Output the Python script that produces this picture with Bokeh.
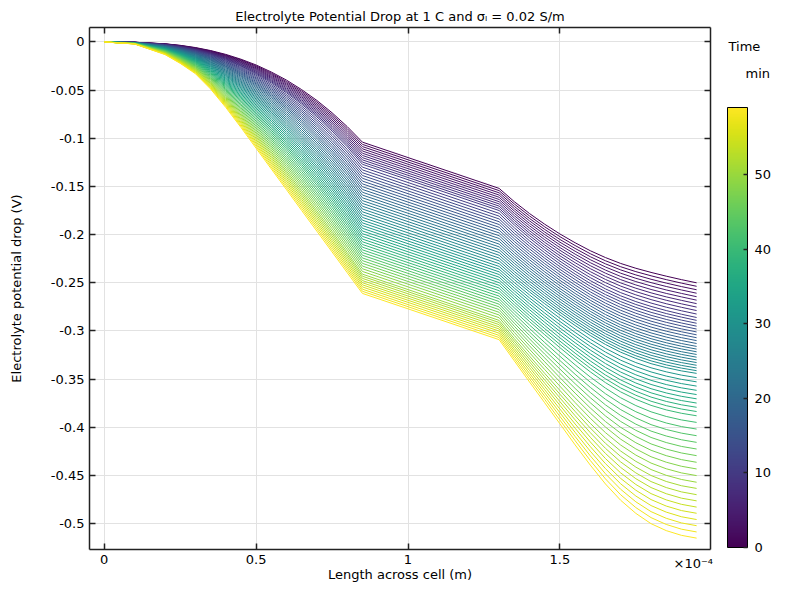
from bokeh.plotting import figure
from bokeh.models import (ColumnDataSource, LinearColorMapper, ColorBar, FixedTicker,
                          LinearAxis, Range1d, CustomJSTickFormatter)
from bokeh.palettes import Viridis256
from bokeh.embed import file_html
from bokeh.resources import INLINE

# ---------------- data ----------------
# positions across the cell, in units of 1e-4 m
x_nodes = [0, 0.1, 0.2, 0.25, 0.3, 0.35, 0.4, 0.45, 0.5, 0.55, 0.6, 0.65, 0.7, 0.75, 0.8, 0.85,
           1.3, 1.35, 1.4, 1.45, 1.5, 1.55, 1.6, 1.65, 1.7, 1.75, 1.8, 1.85, 1.9, 1.95]

time_min = [0, 1, 2, 3, 4, 5, 6, 7, 8, 9, 10, 11, 12, 13, 14, 15, 16, 17, 18, 19,
            20, 21, 22, 23, 24, 25, 26, 27, 28, 29, 30, 31, 32, 33, 34, 35, 36, 37, 38, 39,
            40, 41, 42, 43, 44, 45, 46, 47, 48, 49, 50, 51, 52, 53, 54, 55, 56, 57, 58, 59]

# size of the electrolyte potential drop (mV) at x_nodes, one list per time step
# (the potential itself is negative: it is plotted as -drop)
drop00 = [0, 0.3, 1.9, 3.5, 5.8, 8.9, 12.9, 17.9, 23.9, 31.2, 39.6, 49.5, 60.7, 73.5, 87.9, 104, 152, 165.8, 178.1, 189.2, 199.3, 208.4, 216.7, 223.8, 229.9, 234.9, 239.2, 243.1, 246.7, 250]
drop01 = [0, 0.3, 2.0, 3.7, 6.1, 9.3, 13.5, 18.6, 24.9, 32.3, 41.0, 51.0, 62.4, 75.4, 90.0, 106.3, 154.3, 168.2, 180.6, 191.9, 202.1, 211.3, 219.8, 227.1, 233.3, 238.4, 242.7, 246.7, 250.3, 253.6]
drop02 = [0, 0.3, 2.1, 3.9, 6.4, 9.7, 14.1, 19.4, 25.8, 33.4, 42.3, 52.5, 64.2, 77.3, 92.1, 108.6, 156.6, 170.7, 183.2, 194.6, 205.0, 214.3, 222.9, 230.3, 236.6, 241.8, 246.3, 250.3, 253.9, 257.2]
drop03 = [0, 0.3, 2.2, 4.1, 6.7, 10.2, 14.6, 20.1, 26.8, 34.5, 43.6, 54.0, 65.9, 79.2, 94.2, 110.9, 158.9, 173.1, 185.7, 197.3, 207.8, 217.2, 226.0, 233.6, 240.0, 245.3, 249.8, 253.8, 257.4, 260.8]
drop04 = [0, 0.4, 2.3, 4.3, 6.9, 10.6, 15.2, 20.9, 27.7, 35.7, 44.9, 55.5, 67.6, 81.1, 96.3, 113.2, 161.2, 175.5, 188.3, 199.9, 210.6, 220.2, 229.1, 236.8, 243.4, 248.7, 253.3, 257.4, 261.0, 264.4]
drop05 = [0, 0.4, 2.4, 4.4, 7.2, 11.0, 15.8, 21.6, 28.6, 36.8, 46.2, 57.0, 69.3, 83.0, 98.4, 115.5, 163.5, 177.9, 190.8, 202.6, 213.4, 223.2, 232.2, 240.0, 246.7, 252.2, 256.9, 261.0, 264.6, 268.0]
drop06 = [0, 0.4, 2.6, 4.6, 7.5, 11.4, 16.4, 22.4, 29.6, 37.9, 47.6, 58.5, 71.0, 84.9, 100.5, 117.8, 165.8, 180.3, 193.3, 205.3, 216.2, 226.1, 235.3, 243.3, 250.1, 255.6, 260.4, 264.6, 268.2, 271.6]
drop07 = [0, 0.4, 2.7, 4.8, 7.8, 11.8, 16.9, 23.2, 30.5, 39.1, 48.9, 60.1, 72.7, 86.8, 102.6, 120.1, 168.1, 182.8, 195.9, 208.0, 219.1, 229.1, 238.4, 246.5, 253.4, 259.1, 263.9, 268.1, 271.8, 275.2]
drop08 = [0, 0.4, 2.8, 5.0, 8.1, 12.2, 17.5, 23.9, 31.5, 40.2, 50.2, 61.6, 74.4, 88.7, 104.7, 122.4, 170.4, 185.2, 198.4, 210.7, 221.9, 232.1, 241.5, 249.8, 256.8, 262.5, 267.4, 271.7, 275.4, 278.8]
drop09 = [0, 0.4, 2.9, 5.2, 8.3, 12.6, 18.1, 24.7, 32.4, 41.3, 51.5, 63.1, 76.1, 90.6, 106.8, 124.7, 172.7, 187.6, 201.0, 213.3, 224.7, 235.0, 244.6, 253.0, 260.2, 266.0, 271.0, 275.3, 279.0, 282.4]
drop10 = [0, 0.5, 3.0, 5.4, 8.6, 13.1, 18.7, 25.4, 33.4, 42.5, 52.8, 64.6, 77.8, 92.5, 108.9, 127, 175, 190.0, 203.5, 216.0, 227.5, 238.0, 247.7, 256.3, 263.5, 269.5, 274.5, 278.8, 282.6, 286]
drop11 = [0, 0.5, 3.2, 5.6, 9.0, 13.6, 19.5, 26.5, 34.6, 44.0, 54.6, 66.6, 80.0, 95.0, 111.6, 129.9, 177.9, 192.9, 206.4, 218.8, 230.3, 240.9, 250.7, 259.2, 266.5, 272.5, 277.5, 281.9, 285.6, 289]
drop12 = [0, 0.5, 3.3, 5.9, 9.4, 14.2, 20.2, 27.5, 35.9, 45.5, 56.3, 68.6, 82.2, 97.4, 114.3, 132.8, 180.8, 195.7, 209.2, 221.7, 233.2, 243.7, 253.6, 262.2, 269.5, 275.5, 280.6, 284.9, 288.7, 292]
drop13 = [0, 0.5, 3.5, 6.2, 9.8, 14.8, 21.0, 28.5, 37.2, 47.0, 58.1, 70.6, 84.5, 99.9, 117.0, 135.7, 183.7, 198.6, 212.0, 224.5, 236.0, 246.6, 256.5, 265.1, 272.5, 278.6, 283.7, 288.0, 291.7, 295]
drop14 = [0, 0.6, 3.6, 6.4, 10.1, 15.3, 21.8, 29.5, 38.4, 48.5, 59.9, 72.5, 86.7, 102.3, 119.6, 138.6, 186.6, 201.4, 214.8, 227.3, 238.8, 249.5, 259.4, 268.1, 275.5, 281.6, 286.7, 291.0, 294.7, 298]
drop15 = [0, 0.6, 3.8, 6.7, 10.5, 15.9, 22.6, 30.6, 39.7, 50.0, 61.6, 74.5, 88.9, 104.8, 122.3, 141.5, 189.5, 204.3, 217.7, 230.1, 241.7, 252.3, 262.3, 271.1, 278.5, 284.7, 289.8, 294.1, 297.8, 301]
drop16 = [0, 0.6, 3.9, 6.9, 10.9, 16.5, 23.4, 31.6, 41.0, 51.5, 63.4, 76.5, 91.1, 107.3, 125.0, 144.4, 192.4, 207.1, 220.5, 232.9, 244.5, 255.2, 265.2, 274.0, 281.5, 287.7, 292.8, 297.2, 300.8, 304]
drop17 = [0, 0.6, 4.1, 7.2, 11.3, 17.0, 24.2, 32.6, 42.3, 53.1, 65.1, 78.5, 93.3, 109.7, 127.7, 147.3, 195.3, 210.0, 223.3, 235.8, 247.4, 258.1, 268.1, 277.0, 284.6, 290.7, 295.9, 300.2, 303.8, 307]
drop18 = [0, 0.7, 4.2, 7.5, 11.7, 17.6, 25.0, 33.6, 43.5, 54.6, 66.9, 80.5, 95.6, 112.2, 130.3, 150.2, 198.2, 212.8, 226.1, 238.6, 250.2, 261.0, 271.0, 279.9, 287.6, 293.8, 299.0, 303.3, 306.9, 310]
drop19 = [0, 0.7, 4.4, 7.7, 12.0, 18.2, 25.7, 34.7, 44.8, 56.1, 68.6, 82.5, 97.8, 114.6, 133.0, 153.1, 201.1, 215.7, 229.0, 241.4, 253.0, 263.8, 273.9, 282.9, 290.6, 296.8, 302.0, 306.3, 309.9, 313]
drop20 = [0, 0.7, 4.5, 8.0, 12.4, 18.7, 26.5, 35.7, 46.1, 57.6, 70.4, 84.5, 100.0, 117.1, 135.7, 156, 204, 218.5, 231.8, 244.2, 255.9, 266.7, 276.9, 285.9, 293.6, 299.9, 305.1, 309.4, 313.0, 316]
drop21 = [0, 0.7, 4.7, 8.3, 12.9, 19.4, 27.4, 36.9, 47.5, 59.3, 72.3, 86.7, 102.4, 119.6, 138.4, 158.9, 206.9, 221.3, 234.6, 247.0, 258.6, 269.4, 279.6, 288.7, 296.4, 302.7, 308.0, 312.2, 315.8, 318.8]
drop22 = [0, 0.8, 4.9, 8.6, 13.3, 20.1, 28.4, 38.1, 49.0, 61.0, 74.3, 88.8, 104.8, 122.2, 141.2, 161.8, 209.8, 224.1, 237.3, 249.7, 261.3, 272.2, 282.4, 291.5, 299.3, 305.6, 310.8, 315.1, 318.6, 321.6]
drop23 = [0, 0.8, 5.1, 8.9, 13.8, 20.7, 29.3, 39.3, 50.5, 62.7, 76.2, 91.0, 107.2, 124.8, 143.9, 164.7, 212.7, 227.0, 240.1, 252.4, 264.1, 275.0, 285.2, 294.3, 302.1, 308.5, 313.7, 318.0, 321.5, 324.4]
drop24 = [0, 0.8, 5.3, 9.2, 14.2, 21.4, 30.2, 40.5, 51.9, 64.5, 78.2, 93.2, 109.6, 127.4, 146.7, 167.6, 215.6, 229.8, 242.9, 255.2, 266.8, 277.7, 288.0, 297.1, 305.0, 311.3, 316.6, 320.8, 324.3, 327.2]
drop25 = [0, 0.9, 5.4, 9.5, 14.7, 22.1, 31.1, 41.6, 53.4, 66.2, 80.2, 95.4, 112.0, 130.0, 149.4, 170.5, 218.5, 232.6, 245.7, 257.9, 269.6, 280.5, 290.8, 299.9, 307.8, 314.2, 319.5, 323.7, 327.2, 330.0]
drop26 = [0, 0.9, 5.6, 9.8, 15.1, 22.7, 32.0, 42.8, 54.8, 67.9, 82.1, 97.6, 114.3, 132.5, 152.2, 173.4, 221.4, 235.4, 248.4, 260.7, 272.3, 283.2, 293.6, 302.8, 310.6, 317.1, 322.4, 326.6, 330.0, 332.8]
drop27 = [0, 0.9, 5.8, 10.1, 15.6, 23.4, 33.0, 44.0, 56.3, 69.6, 84.1, 99.7, 116.7, 135.1, 154.9, 176.3, 224.3, 238.3, 251.2, 263.4, 275.1, 286.0, 296.3, 305.6, 313.5, 319.9, 325.2, 329.4, 332.8, 335.6]
drop28 = [0, 0.9, 6.0, 10.4, 16.0, 24.1, 33.9, 45.2, 57.7, 71.3, 86.0, 101.9, 119.1, 137.7, 157.7, 179.2, 227.2, 241.1, 254.0, 266.2, 277.8, 288.8, 299.1, 308.4, 316.3, 322.8, 328.1, 332.3, 335.7, 338.4]
drop29 = [0, 1.0, 6.2, 10.8, 16.5, 24.7, 34.8, 46.4, 59.2, 73.0, 88.0, 104.1, 121.5, 140.3, 160.4, 182.1, 230.1, 243.9, 256.8, 268.9, 280.5, 291.5, 301.9, 311.2, 319.2, 325.7, 331.0, 335.2, 338.5, 341.2]
drop30 = [0, 1.0, 6.4, 11.1, 17.0, 25.4, 35.7, 47.6, 60.7, 74.7, 89.9, 106.3, 123.9, 142.8, 163.2, 185, 233, 246.7, 259.5, 271.7, 283.3, 294.3, 304.7, 314.0, 322.0, 328.5, 333.9, 338.0, 341.4, 344]
drop31 = [0, 1.0, 6.6, 11.4, 17.5, 26.1, 36.8, 48.9, 62.3, 76.6, 92.0, 108.6, 126.4, 145.5, 165.9, 187.8, 235.8, 249.7, 262.6, 274.9, 286.7, 297.9, 308.5, 318.0, 326.1, 332.8, 338.2, 342.4, 345.8, 348.4]
drop32 = [0, 1.1, 6.8, 11.8, 18.0, 26.9, 37.8, 50.3, 63.9, 78.5, 94.1, 110.9, 128.9, 148.1, 168.7, 190.6, 238.6, 252.6, 265.7, 278.1, 290.1, 301.5, 312.2, 321.9, 330.3, 337.0, 342.5, 346.8, 350.2, 352.8]
drop33 = [0, 1.1, 7.0, 12.1, 18.5, 27.6, 38.8, 51.6, 65.5, 80.4, 96.2, 113.2, 131.3, 150.7, 171.4, 193.4, 241.4, 255.5, 268.7, 281.4, 293.5, 305.0, 316.0, 325.9, 334.4, 341.3, 346.9, 351.2, 354.6, 357.2]
drop34 = [0, 1.1, 7.2, 12.5, 19.0, 28.4, 39.9, 52.9, 67.1, 82.2, 98.3, 115.5, 133.8, 153.3, 174.1, 196.2, 244.2, 258.4, 271.8, 284.6, 296.9, 308.6, 319.8, 329.8, 338.5, 345.5, 351.2, 355.6, 359.0, 361.6]
drop35 = [0, 1.2, 7.4, 12.8, 19.5, 29.1, 40.9, 54.2, 68.7, 84.1, 100.5, 117.8, 136.3, 156.0, 176.8, 199.0, 247.0, 261.4, 274.9, 287.8, 300.3, 312.2, 323.5, 333.8, 342.6, 349.7, 355.5, 360.0, 363.4, 366.0]
drop36 = [0, 1.2, 7.6, 13.2, 20.0, 29.9, 41.9, 55.6, 70.3, 86.0, 102.6, 120.1, 138.8, 158.6, 179.6, 201.8, 249.8, 264.3, 277.9, 291.0, 303.7, 315.8, 327.3, 337.8, 346.7, 354.0, 359.9, 364.3, 367.8, 370.4]
drop37 = [0, 1.2, 7.8, 13.5, 20.5, 30.6, 43.0, 56.9, 72.0, 87.8, 104.7, 122.5, 141.3, 161.2, 182.3, 204.6, 252.6, 267.2, 281.0, 294.3, 307.1, 319.4, 331.1, 341.7, 350.8, 358.2, 364.2, 368.7, 372.2, 374.8]
drop38 = [0, 1.3, 8.1, 13.9, 21.0, 31.4, 44.0, 58.2, 73.6, 89.7, 106.8, 124.8, 143.8, 163.8, 185.0, 207.4, 255.4, 270.1, 284.1, 297.5, 310.5, 323.0, 334.9, 345.7, 354.9, 362.5, 368.6, 373.1, 376.6, 379.2]
drop39 = [0, 1.3, 8.3, 14.2, 21.5, 32.1, 45.0, 59.6, 75.2, 91.6, 108.9, 127.1, 146.2, 166.5, 187.8, 210.2, 258.2, 273.0, 287.2, 300.7, 313.9, 326.6, 338.6, 349.6, 359.1, 366.7, 372.9, 377.5, 381.0, 383.6]
drop40 = [0, 1.3, 8.5, 14.6, 22.1, 32.9, 46.1, 60.9, 76.8, 93.5, 111.0, 129.4, 148.7, 169.1, 190.5, 213, 261, 276.0, 290.2, 303.9, 317.3, 330.2, 342.4, 353.6, 363.2, 370.9, 377.2, 381.9, 385.4, 388]
drop41 = [0, 1.4, 8.7, 15.0, 22.6, 33.7, 47.2, 62.4, 78.6, 95.5, 113.3, 131.9, 151.4, 171.8, 193.3, 215.8, 263.8, 279.2, 293.8, 307.9, 321.7, 335.1, 347.8, 359.3, 369.3, 377.4, 383.9, 388.7, 392.3, 394.9]
drop42 = [0, 1.4, 9.0, 15.4, 23.2, 34.6, 48.4, 63.9, 80.4, 97.6, 115.6, 134.4, 154.0, 174.6, 196.1, 218.6, 266.6, 282.3, 297.4, 312.0, 326.2, 340.0, 353.1, 365.1, 375.4, 383.8, 390.5, 395.5, 399.2, 401.8]
drop43 = [0, 1.5, 9.2, 15.8, 23.8, 35.4, 49.5, 65.3, 82.2, 99.7, 117.9, 136.9, 156.7, 177.3, 198.9, 221.4, 269.4, 285.5, 301.0, 316.0, 330.6, 344.9, 358.5, 370.9, 381.6, 390.2, 397.2, 402.2, 406.0, 408.7]
drop44 = [0, 1.5, 9.4, 16.2, 24.4, 36.3, 50.7, 66.8, 84.0, 101.7, 120.2, 139.4, 159.3, 180.1, 201.7, 224.2, 272.2, 288.7, 304.6, 320.0, 335.1, 349.8, 363.8, 376.7, 387.7, 396.7, 403.9, 409.0, 412.9, 415.6]
drop45 = [0, 1.5, 9.7, 16.6, 24.9, 37.1, 51.9, 68.3, 85.8, 103.8, 122.5, 141.9, 161.9, 182.8, 204.5, 227.0, 275.0, 291.9, 308.2, 324.0, 339.5, 354.7, 369.2, 382.4, 393.9, 403.1, 410.5, 415.8, 419.8, 422.5]
drop46 = [0, 1.6, 9.9, 17.0, 25.5, 37.9, 53.0, 69.8, 87.6, 105.9, 124.8, 144.4, 164.6, 185.6, 207.3, 229.8, 277.8, 295.1, 311.8, 328.0, 344.0, 359.6, 374.5, 388.2, 400.0, 409.5, 417.2, 422.6, 426.6, 429.4]
drop47 = [0, 1.6, 10.2, 17.4, 26.1, 38.8, 54.2, 71.3, 89.4, 108.0, 127.1, 146.9, 167.2, 188.3, 210.1, 232.6, 280.6, 298.3, 315.4, 332.0, 348.4, 364.5, 379.9, 394.0, 406.1, 416.0, 423.8, 429.4, 433.5, 436.3]
drop48 = [0, 1.7, 10.4, 17.8, 26.7, 39.6, 55.3, 72.8, 91.2, 110.0, 129.4, 149.3, 169.9, 191.0, 212.9, 235.4, 283.4, 301.5, 319.0, 336.0, 352.8, 369.4, 385.2, 399.7, 412.3, 422.4, 430.5, 436.2, 440.4, 443.2]
drop49 = [0, 1.7, 10.7, 18.2, 27.2, 40.5, 56.5, 74.3, 93.0, 112.1, 131.7, 151.8, 172.5, 193.8, 215.7, 238.2, 286.2, 304.7, 322.5, 340.0, 357.3, 374.3, 390.6, 405.5, 418.4, 428.8, 437.1, 443.0, 447.3, 450.1]
drop50 = [0, 1.7, 10.9, 18.6, 27.8, 41.3, 57.7, 75.8, 94.7, 114.2, 134.0, 154.3, 175.2, 196.5, 218.5, 241, 289, 307.9, 326.1, 344.0, 361.7, 379.2, 395.9, 411.3, 424.6, 435.3, 443.8, 449.8, 454.1, 457]
drop51 = [0, 1.8, 11.1, 19.0, 28.4, 42.2, 58.8, 77.2, 96.5, 116.1, 136.1, 156.6, 177.5, 198.9, 220.8, 243.2, 291.2, 310.4, 329.1, 347.4, 365.6, 383.5, 400.7, 416.6, 430.2, 441.3, 450.0, 456.2, 460.6, 463.4]
drop52 = [0, 1.8, 11.4, 19.4, 28.9, 43.0, 59.9, 78.6, 98.2, 118.1, 138.3, 158.9, 179.9, 201.3, 223.1, 245.4, 293.4, 313.0, 332.1, 350.8, 369.4, 387.9, 405.5, 421.8, 435.9, 447.3, 456.3, 462.5, 467.0, 469.9]
drop53 = [0, 1.9, 11.6, 19.8, 29.5, 43.8, 61.1, 80.1, 99.9, 120.0, 140.4, 161.2, 182.2, 203.7, 225.5, 247.7, 295.7, 315.6, 335.1, 354.2, 373.3, 392.2, 410.3, 427.1, 441.6, 453.3, 462.5, 468.9, 473.5, 476.3]
drop54 = [0, 1.9, 11.9, 20.2, 30.1, 44.7, 62.2, 81.5, 101.6, 122.0, 142.6, 163.5, 184.6, 206.1, 227.8, 249.9, 297.9, 318.2, 338.0, 357.6, 377.1, 396.5, 415.1, 432.4, 447.3, 459.3, 468.8, 475.3, 479.9, 482.8]
drop55 = [0, 1.9, 12.1, 20.6, 30.6, 45.5, 63.3, 83.0, 103.4, 124.0, 144.7, 165.7, 187.0, 208.4, 230.1, 252.1, 300.1, 320.7, 341.0, 361.0, 381.0, 400.9, 420.0, 437.7, 453.0, 465.3, 475.0, 481.7, 486.4, 489.2]
drop56 = [0, 2.0, 12.3, 21.0, 31.2, 46.3, 64.5, 84.4, 105.1, 125.9, 146.9, 168.0, 189.3, 210.8, 232.5, 254.3, 302.3, 323.3, 344.0, 364.3, 384.8, 405.2, 424.8, 442.9, 458.6, 471.3, 481.2, 488.0, 492.8, 495.7]
drop57 = [0, 2.0, 12.6, 21.4, 31.8, 47.1, 65.6, 85.9, 106.8, 127.9, 149.0, 170.3, 191.7, 213.2, 234.8, 256.6, 304.6, 325.9, 346.9, 367.7, 388.6, 409.5, 429.6, 448.2, 464.3, 477.3, 487.5, 494.4, 499.2, 502.1]
drop58 = [0, 2.1, 12.8, 21.8, 32.3, 48.0, 66.7, 87.3, 108.5, 129.9, 151.2, 172.6, 194.0, 215.6, 237.1, 258.8, 306.8, 328.5, 349.9, 371.1, 392.5, 413.8, 434.4, 453.5, 470.0, 483.3, 493.7, 500.8, 505.7, 508.6]
drop59 = [0, 2.1, 13.1, 22.2, 32.9, 48.8, 67.9, 88.7, 110.3, 131.8, 153.3, 174.9, 196.4, 217.9, 239.5, 261, 309, 331.0, 352.9, 374.5, 396.3, 418.2, 439.2, 458.8, 475.7, 489.3, 500.0, 507.2, 512.1, 515]

drop_rows = [drop00, drop01, drop02, drop03, drop04, drop05, drop06, drop07, drop08, drop09,
             drop10, drop11, drop12, drop13, drop14, drop15, drop16, drop17, drop18, drop19,
             drop20, drop21, drop22, drop23, drop24, drop25, drop26, drop27, drop28, drop29,
             drop30, drop31, drop32, drop33, drop34, drop35, drop36, drop37, drop38, drop39,
             drop40, drop41, drop42, drop43, drop44, drop45, drop46, drop47, drop48, drop49,
             drop50, drop51, drop52, drop53, drop54, drop55, drop56, drop57, drop58, drop59]

x_ticks = [0, 0.5, 1, 1.5]
x_tick_labels = ["0", "0.5", "1", "1.5"]
y_ticks = [0, -0.05, -0.1, -0.15, -0.2, -0.25, -0.3, -0.35, -0.4, -0.45, -0.5]
y_tick_labels = ["0", "-0.05", "-0.1", "-0.15", "-0.2", "-0.25", "-0.3", "-0.35", "-0.4", "-0.45", "-0.5"]
cbar_ticks = [0, 10, 20, 30, 40, 50]
time_max = 59

title_text = "Electrolyte Potential Drop at 1 C and \u03c3\u2097 = 0.02 S/m"
x_label = "Length across cell (m)"
y_label = "Electrolyte potential drop (V)"
x_scale_text = "\u00d710\u207b\u2074"
cbar_title = "Time"
cbar_unit = "min"

# ---------------- styling ----------------
FONT = "DejaVu Sans"
FS = "13px"
TXT = "#000000"
AX = "#222222"

p = figure(width=772, height=584, output_backend="svg", toolbar_location=None,
           x_range=Range1d(-0.0484, 1.9957), y_range=Range1d(-0.5268, 0.0150),
           min_border_left=89, min_border_right=62, min_border_top=27, min_border_bottom=35,
           x_axis_label=x_label, y_axis_label=y_label)
p.outline_line_color = None
p.background_fill_color = "white"
p.border_fill_color = "white"

p.title.text = title_text
p.title.align = "center"
p.title.text_font = FONT
p.title.text_font_size = FS
p.title.text_font_style = "normal"
p.title.text_color = TXT
p.title.standoff = 7

mapper = LinearColorMapper(palette=Viridis256, low=0, high=time_max)

xs = [x_nodes for _ in drop_rows]
ys = [[-v / 1000.0 for v in row] for row in drop_rows]
src = ColumnDataSource(dict(xs=xs, ys=ys, t=time_min))
p.multi_line("xs", "ys", source=src, line_width=1,
             line_color={"field": "t", "transform": mapper})

def style_axis(ax):
    ax.axis_line_color = AX
    ax.axis_line_width = 1.5
    ax.major_tick_line_color = AX
    ax.major_tick_line_width = 1.5
    ax.major_tick_in = 6
    ax.major_tick_out = 0
    ax.minor_tick_line_color = None
    ax.major_label_text_font = FONT
    ax.major_label_text_font_size = FS
    ax.major_label_text_color = TXT
    ax.axis_label_text_font = FONT
    ax.axis_label_text_font_size = FS
    ax.axis_label_text_font_style = "normal"
    ax.axis_label_text_color = TXT

xax = p.xaxis[0]
yax = p.yaxis[0]
xax.ticker = FixedTicker(ticks=x_ticks)
yax.ticker = FixedTicker(ticks=y_ticks)
xax.major_label_overrides = dict(zip(x_ticks, x_tick_labels))
yax.major_label_overrides = dict(zip(y_ticks, y_tick_labels))
style_axis(xax)
style_axis(yax)
xax.major_label_standoff = 5
xax.axis_label_standoff = 0
yax.major_label_standoff = 5
yax.axis_label_standoff = 24

blank = CustomJSTickFormatter(code="return ''")
top_ax = LinearAxis(ticker=FixedTicker(ticks=x_ticks), formatter=blank)
right_ax = LinearAxis(ticker=FixedTicker(ticks=y_ticks), formatter=blank)
for ax in (top_ax, right_ax):
    style_axis(ax)
    ax.major_label_standoff = 0
    ax.major_label_text_font_size = "0px"
p.add_layout(top_ax, "above")
p.add_layout(right_ax, "right")

p.xgrid.grid_line_color = "#e2e2e2"
p.ygrid.grid_line_color = "#e2e2e2"

cb = ColorBar(color_mapper=mapper, location=(638, 2), orientation="vertical",
              width=20, height=440, padding=0,
              ticker=FixedTicker(ticks=cbar_ticks),
              major_label_text_font=FONT, major_label_text_font_size=FS,
              major_label_text_color=TXT, label_standoff=7,
              major_tick_in=4, major_tick_out=0, major_tick_line_color=AX,
              major_tick_line_width=1.5, minor_tick_line_color=None,
              bar_line_color="#000000", bar_line_width=1,
              background_fill_color=None, border_line_color=None)
p.add_layout(cb, "center")

def text_box(text, loc):
    # a colour bar with an invisible bar, used only to place a text outside the frame
    return ColorBar(color_mapper=mapper, location=loc, orientation="horizontal",
                    width=1, height=1, padding=0, scale_alpha=0,
                    ticker=FixedTicker(ticks=[]), bar_line_color=None,
                    major_tick_line_color=None, minor_tick_line_color=None,
                    major_label_text_font_size="0px", label_standoff=0,
                    title=text, title_text_font=FONT, title_text_font_size=FS,
                    title_text_font_style="normal", title_text_color=TXT,
                    title_standoff=2,
                    background_fill_color=None, border_line_color=None)

p.add_layout(text_box(cbar_title, (639, 494)), "center")
p.add_layout(text_box(cbar_unit, (656, 467)), "center")
p.add_layout(text_box(x_scale_text, (584, -23)), "center")

open("out.html", "w").write(file_html(p, INLINE))
